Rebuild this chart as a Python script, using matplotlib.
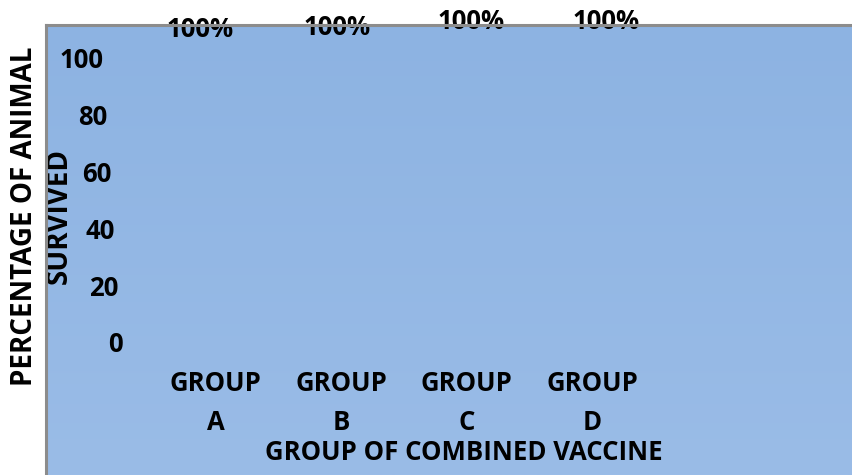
import numpy as np
import matplotlib.pyplot as plt
from matplotlib.colors import LinearSegmentedColormap
from matplotlib.transforms import ScaledTranslation

groups = ['GROUP\nA', 'GROUP\nB', 'GROUP\nC', 'GROUP\nD']
survival = [100, 100, 100, 100]
yticks = [0, 20, 40, 60, 80, 100]

plt.rcParams['font.family'] = ['Open Sans', 'DejaVu Sans']
plt.rcParams['font.weight'] = 'bold'
fs = 18.5

W, H = 852, 475
fig = plt.figure(figsize=(W / 100, H / 100), dpi=100)

# blue chart area, cut off at right and bottom
rect = [46 / W, 0, 806 / W, 450 / H]
bg = fig.add_axes(rect, zorder=0)
cmap = LinearSegmentedColormap.from_list('bg', ['#8DB3E2', '#9ABCE7'])
bg.imshow(np.linspace(0, 1, 200).reshape(-1, 1), aspect='auto', cmap=cmap,
          extent=[0, 1, 0, 1])
bg.set_xticks([])
bg.set_yticks([])
for s in bg.spines.values():
    s.set_visible(False)

# plot
ax = fig.add_axes([153 / W, 133 / H, 502 / W, 284 / H], zorder=1)
ax.patch.set_visible(False)
x = np.arange(len(groups))
bars = ax.bar(x, survival, 0.6, color='none')
labs = ax.bar_label(bars, labels=[f'{v}%' for v in survival], padding=9,
                    fontsize=fs, fontweight='bold')
# the original picture is slightly skewed
shift = [(-11, 10.5), (-3, 12.5), (3, 16.5), (10, 16.5)]
for a, off in zip(labs, shift):
    a.xyann = off

ax.set_xlim(-0.5, len(groups) - 0.5)
ax.set_ylim(0, 100)
ax.set_xticks(x, groups, fontsize=fs, fontweight='bold', linespacing=1.6)
ax.set_yticks(yticks)
ax.tick_params(axis='y', length=0, pad=22, labelsize=fs)
ax.tick_params(axis='x', length=0, pad=20)
for lbl, v in zip(ax.get_yticklabels(), yticks):
    lbl.set_transform(lbl.get_transform() +
                      ScaledTranslation(-0.19 * v / 100, 0, fig.dpi_scale_trans))
for s in ax.spines.values():
    s.set_visible(False)

ax.set_xlabel('GROUP OF COMBINED VACCINE', fontsize=fs, fontweight='bold')
ax.xaxis.set_label_coords(464 / W, (H - 452) / H, transform=fig.transFigure)
ax.xaxis.label.set_va('center')
ax.set_ylabel('PERCENTAGE OF ANIMAL\nSURVIVED', fontsize=20, fontweight='bold',
              linespacing=1.27)
ax.yaxis.set_label_coords(42 / W, (H - 216) / H, transform=fig.transFigure)
ax.yaxis.label.set_va('center')

# grey border on top
top = fig.add_axes(rect, zorder=2)
top.patch.set_visible(False)
top.set_xticks([])
top.set_yticks([])
top.spines['right'].set_visible(False)
top.spines['bottom'].set_visible(False)
top.spines['top'].set_color('#8C8C8C')
top.spines['left'].set_color('#8C8C8C')
top.spines['top'].set_linewidth(2.2)
top.spines['left'].set_linewidth(2.2)

fig.savefig('out.png', dpi=100)
